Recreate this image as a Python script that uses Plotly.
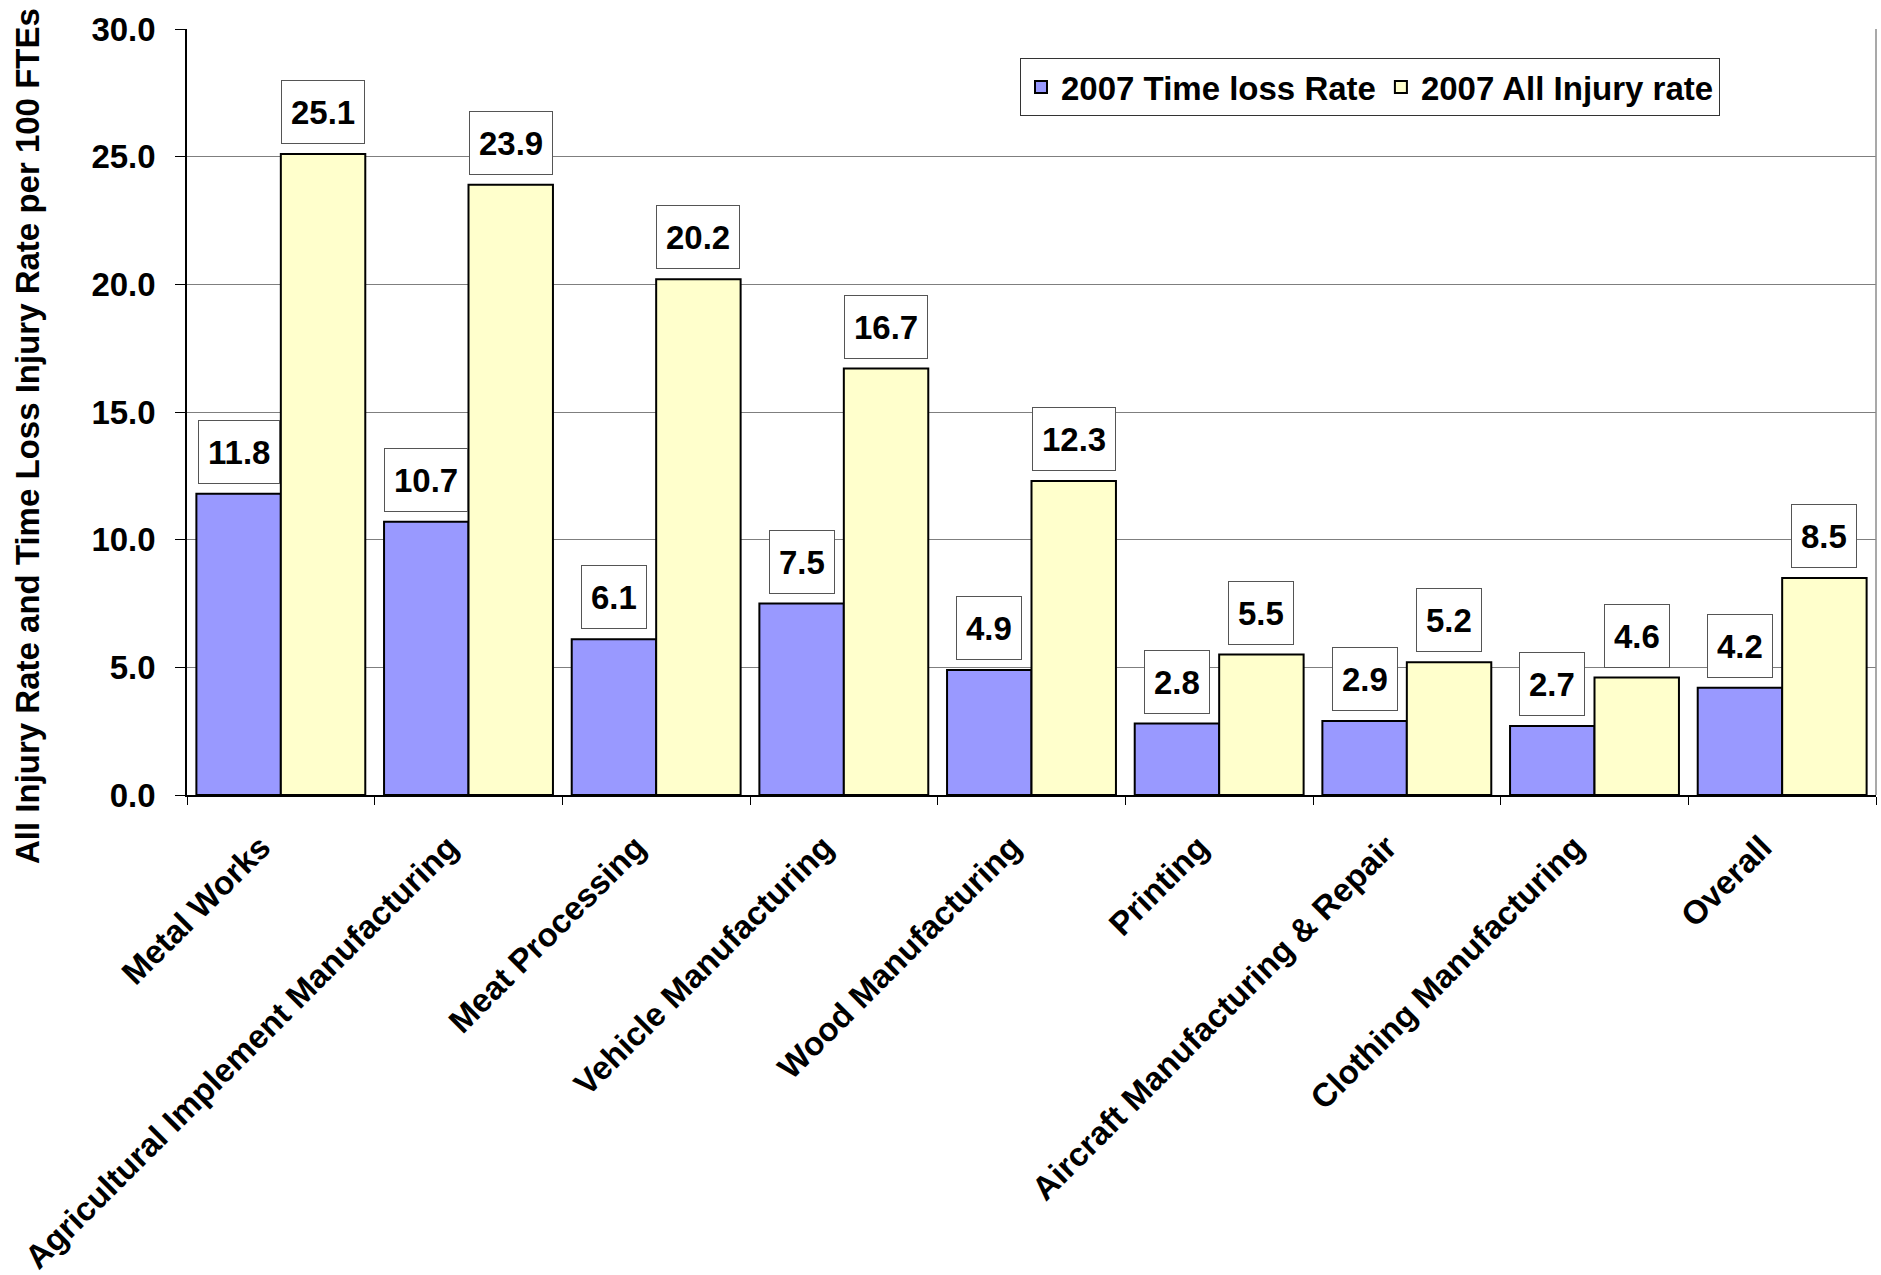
import plotly.graph_objects as go

categories = ["Metal Works", "Agricultural Implement Manufacturing", "Meat Processing",
              "Vehicle Manufacturing", "Wood Manufacturing", "Printing",
              "Aircraft Manufacturing & Repair", "Clothing Manufacturing", "Overall"]
time_loss = [11.8, 10.7, 6.1, 7.5, 4.9, 2.8, 2.9, 2.7, 4.2]
all_injury = [25.1, 23.9, 20.2, 16.7, 12.3, 5.5, 5.2, 4.6, 8.5]
series_names = ["2007 Time loss Rate", "2007 All Injury rate"]
y_ticks = [0, 5, 10, 15, 20, 25, 30]
y_title = "All Injury Rate and Time Loss Injury Rate per 100 FTEs"

FONT = "Liberation Sans, Arial, sans-serif"
FS = 33
BARGAP = 0.1
W, H = 1881, 1275
L, R, T, B = 187, 5, 29, 480
PW, PH = W - L - R, H - T - B

fig = go.Figure()
fig.add_trace(go.Bar(x=categories, y=time_loss, name=series_names[0],
                     marker=dict(color="#9999FF", line=dict(color="black", width=2))))
fig.add_trace(go.Bar(x=categories, y=all_injury, name=series_names[1],
                     marker=dict(color="#FFFFCC", line=dict(color="black", width=2))))

half = (1 - BARGAP) / 4
annotations = []
for series, off in ((time_loss, -half), (all_injury, half)):
    for i, v in enumerate(series):
        annotations.append(dict(
            x=i + off, y=v, xref="x", yref="y", text=f"{v:.1f}", showarrow=False,
            yanchor="bottom", yshift=10, bgcolor="white", bordercolor="#555",
            borderwidth=1, borderpad=9, height=44,
            font=dict(family=FONT, size=FS, color="black", weight="bold")))

annotations.append(dict(
    x=(28 - L) / PW, y=(H - B - 436) / PH, xref="paper", yref="paper",
    text=y_title, textangle=-90, showarrow=False, xanchor="center", yanchor="middle",
    font=dict(family=FONT, size=FS, color="black", weight="bold")))

fig.update_layout(
    width=W, height=H,
    margin=dict(l=L, r=R, t=T, b=B, autoexpand=False),
    paper_bgcolor="white", plot_bgcolor="white",
    barmode="group", bargap=BARGAP, bargroupgap=0,
    font=dict(family=FONT, color="black"),
    showlegend=True,
    legend=dict(orientation="h", x=(1720 - L) / PW, xanchor="right",
                y=(H - B - 58) / PH, yanchor="top",
                bgcolor="white", bordercolor="#333", borderwidth=1,
                font=dict(family=FONT, size=FS, color="black", weight="bold"),
                itemwidth=30, traceorder="normal"),
    annotations=annotations,
)

fig.update_xaxes(
    type="category", tickangle=-45, tickson="boundaries", ticks="outside",
    ticklen=8, tickcolor="black", showline=True, linecolor="black", linewidth=1.5,
    showgrid=False, automargin=False, ticklabelshift=-20, ticklabelstandoff=18,
    tickfont=dict(family=FONT, size=FS, color="black", weight="bold"))

fig.update_yaxes(
    range=[0, 30], tickvals=y_ticks, tickformat=".1f", ticks="outside", ticklen=10,
    tickcolor="black", showline=True, linecolor="black", linewidth=1.5,
    showgrid=True, gridcolor="#7f7f7f", gridwidth=1, zeroline=False, automargin=False,
    ticklabelstandoff=13,
    tickfont=dict(family=FONT, size=FS, color="black", weight="bold"))

fig.add_shape(type="line", xref="paper", yref="paper", x0=1, x1=1, y0=0, y1=1,
              line=dict(color="#8c8c8c", width=1.5))

fig.write_html("out.html", config={"displayModeBar": False},
               post_script="document.body.style.margin='0';document.body.style.overflow='hidden';")
